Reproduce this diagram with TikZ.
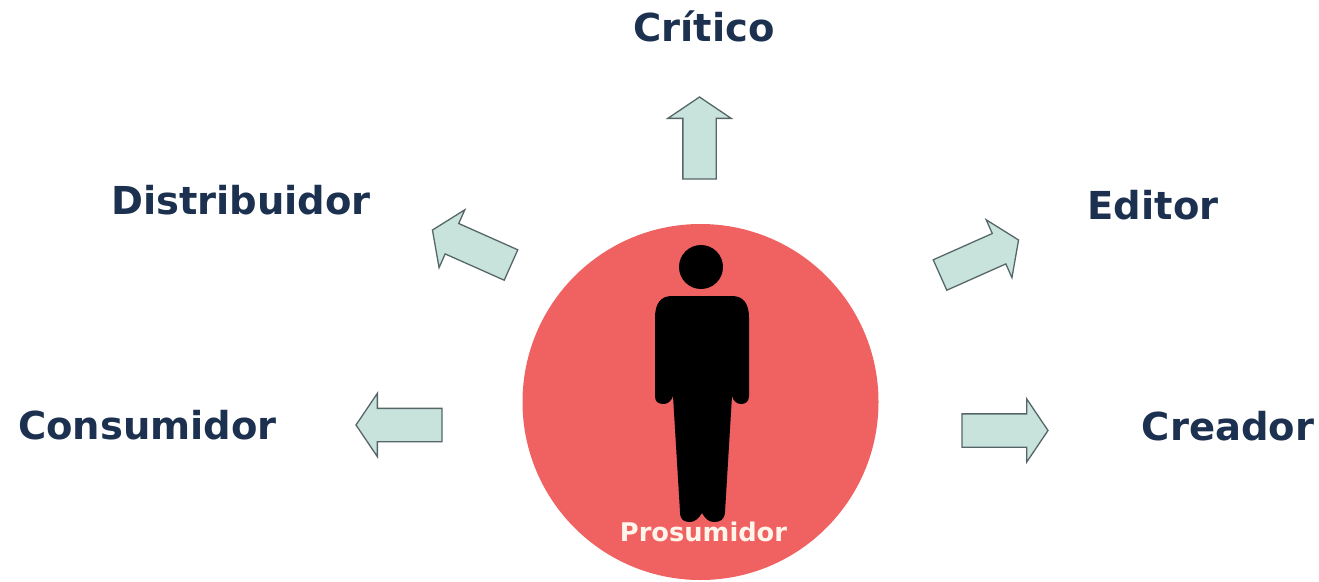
\documentclass[tikz,border=0pt]{standalone}
\usepackage{fontspec}
\setmainfont{DejaVu Sans}
\usepackage{tikz}
\usetikzlibrary{shapes.arrows}
\definecolor{navy}{HTML}{1C3050}
\definecolor{redball}{HTML}{F06262}
\definecolor{mint}{HTML}{C8E3DC}
\definecolor{arrowline}{HTML}{566668}
\tikzset{
    rolelabel/.style={anchor=base, text=navy, font=\fontsize{38.5}{38.5}\selectfont\bfseries, inner sep=0pt},
    blockarrow/.style={single arrow, draw=arrowline, fill=mint, line width=1.3pt, anchor=tail,
        inner sep=0pt, outer sep=0pt, text width=0pt, text height=16pt, text depth=16pt,
        minimum width=63pt, minimum height=86pt,
        single arrow head extend=15pt, single arrow tip angle=112}
}
\begin{document}
\begin{tikzpicture}[x=1pt,y=-1pt]
    \useasboundingbox (0,0) rectangle (1319,581);

    \node (ball) at (700.5,402) [circle, fill=redball, minimum size=356pt, inner sep=0pt] {};

    \node (head) at (701,267) [circle, fill=black, minimum size=44pt, inner sep=0pt] {};
    \fill[black] (655,318) .. controls (655,303) and (661,296) .. (672,296) -- (732,296)
        .. controls (743,296) and (749,303) .. (749,318) -- (749,396)
        .. controls (749,402) and (745,404) .. (741,404) .. controls (736,404) and (733,400) .. (732,396)
        -- (725,512) .. controls (724.5,520) and (720,522) .. (714,522)
        .. controls (708,522) and (705,518) .. (702,513) .. controls (699,518) and (695,522) .. (690,522)
        .. controls (684,522) and (680,520) .. (680,512) -- (673,396)
        .. controls (672,400) and (668,404) .. (664,404) .. controls (658,404) and (655,402) .. (655,396) -- cycle;

    \node (prosumidor) at (703.5,541) [anchor=base, text=white!92!orange, font=\fontsize{25.7}{25.7}\selectfont\bfseries, inner sep=0pt] {Prosumidor};

    \node (critico)      at (704,41.5) [rolelabel] {Crítico};
    \node (distribuidor) at (241,214)  [rolelabel] {Distribuidor};
    \node (editor)       at (1153,219) [rolelabel] {Editor};
    \node (consumidor)   at (147.5,439) [rolelabel] {Consumidor};
    \node (creador)      at (1228,440) [rolelabel] {Creador};

    \node (arrowC) at (699.5,179) [blockarrow, rotate=90, minimum height=82pt] {};
    \node (arrowD) at (511,265)   [blockarrow, rotate=156] {};
    \node (arrowE) at (940,275)   [blockarrow, rotate=24] {};
    \node (arrowO) at (442,425)   [blockarrow, rotate=180] {};
    \node (arrowR) at (962,430.5) [blockarrow, rotate=0] {};
\end{tikzpicture}
\end{document}
